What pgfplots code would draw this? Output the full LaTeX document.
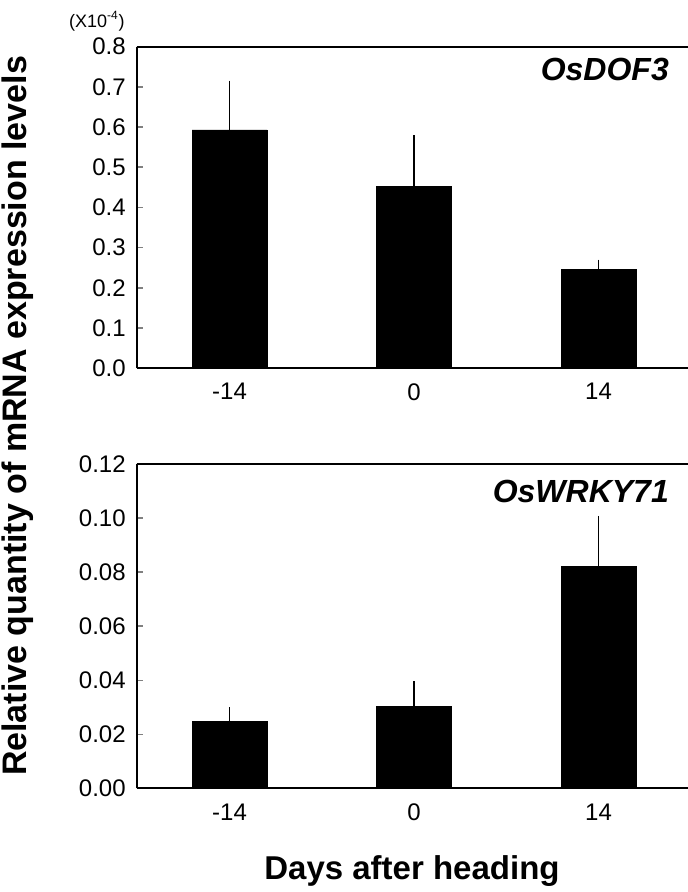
\documentclass[border=0pt]{standalone}
\usepackage{fontspec}
\setmainfont{Liberation Sans}
\usepackage{pgfplots}
\pgfplotsset{compat=1.18}
\begin{document}
\begin{tikzpicture}
\useasboundingbox (0,0) rectangle (344pt,446pt);
\pgfplotsset{
  mypanel/.style={
    scale only axis, width=275.65pt,
    xmin=-0.503, xmax=2.485,
    xtick={0,1,2}, xticklabels={-14,0,14},
    xtick style={draw=none},
    axis x line*=box, axis y line*=left,
    axis line style={line width=1pt},
    ytick pos=left, tick align=inside, major tick length=3pt,
    ytick style={line width=0.8pt},
    tick label style={font=\fontsize{12}{14}\selectfont},
    /pgf/number format/assume math mode=true,
    xticklabel style={yshift=-4pt},
    yticklabel style={xshift=-2pt},
    scaled y ticks=false,
    clip=false,
  },
  mybars/.style={ybar, bar width=37.5pt, fill=black, draw=black,
    error bars/.cd, y dir=plus, y explicit,
    error bar style={line width=0.8pt, black},
    error mark options={line width=0.8pt, mark size=2.5pt, black}},
}
\begin{axis}[mypanel, at={(68.35pt,261.85pt)}, anchor=south west, height=160.8pt,
  ymin=0, ymax=0.8, ytick={0,0.1,0.2,0.3,0.4,0.5,0.6,0.7,0.8},
  yticklabel style={/pgf/number format/fixed, /pgf/number format/fixed zerofill, /pgf/number format/precision=1}]
\addplot[mybars] coordinates {(0,0.593) +- (0,0.110) (1,0.452) +- (0,0.115) (2,0.245) +- (0,0.013)};
\node[anchor=east, font=\fontsize{16}{18}\selectfont\bfseries\itshape] at (rel axis cs:0.978,0.929) {OsDOF3};
\end{axis}
\begin{axis}[mypanel, at={(68.35pt,51.75pt)}, anchor=south west, height=162.25pt,
  ymin=0, ymax=0.12, ytick={0,0.02,0.04,0.06,0.08,0.10,0.12},
  yticklabel style={/pgf/number format/fixed, /pgf/number format/fixed zerofill, /pgf/number format/precision=2}]
\addplot[mybars] coordinates {(0,0.0247) +- (0,0.0035) (1,0.0305) +- (0,0.0073) (2,0.0822) +- (0,0.0168)};
\node[anchor=east, font=\fontsize{16}{18}\selectfont\bfseries\itshape] at (rel axis cs:0.978,0.915) {OsWRKY71};
\end{axis}
\node[rotate=90, anchor=base, font=\fontsize{17}{20}\selectfont\bfseries] at (13pt,238pt) {Relative quantity of mRNA expression levels};
\node[anchor=base, font=\fontsize{16.5}{20}\selectfont\bfseries] at (206pt,6pt) {Days after heading};
\node[anchor=east, font=\fontsize{9}{11}\selectfont] at (65.9pt,435.5pt) {(X10\textsuperscript{-4})};
\end{tikzpicture}
\end{document}
